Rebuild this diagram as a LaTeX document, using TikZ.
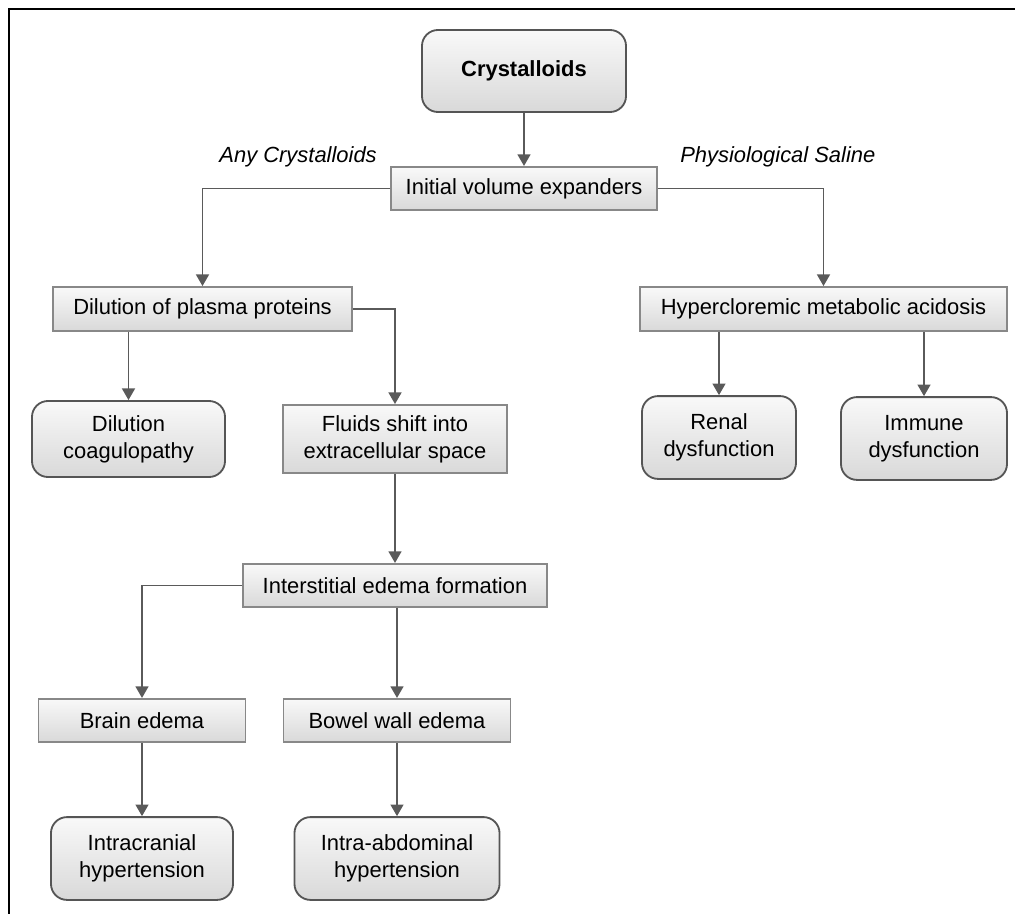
\documentclass[tikz,border=0pt]{standalone}
\usepackage{fontspec}
\setmainfont{Liberation Sans}
\usetikzlibrary{positioning,calc,arrows.meta,shapes}
\definecolor{linegray}{HTML}{5A5A5A}
\definecolor{boxedge}{HTML}{888888}
\definecolor{roundedge}{HTML}{555555}
\tikzset{
	%boxes of the chart
	effect/.style = {rectangle, draw=boxedge, line width=1.3pt,
	                 top color=gray!5, bottom color=gray!30,
	                 minimum height=1.08cm, align=center, inner sep=2pt},
	outcome/.style = {rectangle, rounded corners=0.4cm, draw=roundedge, line width=1.3pt,
	                 top color=gray!5, bottom color=gray!30,
	                 minimum height=2.07cm, align=center, inner sep=2pt},
	arr/.style = {-{Triangle[length=0.29cm, width=0.32cm]}, draw=linegray, line width=1.4pt},
	lbl/.style = {font=\fontsize{15.6}{19}\selectfont\itshape, inner sep=0pt}
}

\begin{document}
\begin{tikzpicture}[x=0.025cm, y=-0.025cm, font=\fontsize{15.6}{19}\selectfont]
	\useasboundingbox (0,0) rectangle (1015,914);
	% frame
	\draw[line width=2pt] (8,9) -- (1015,9);
	\draw[line width=1.5pt] (9,9) -- (9,914);

	\node (cry) [outcome, minimum width=5.1cm, minimum height=2.05cm, font=\fontsize{15.6}{19}\selectfont\bfseries] at (524,71) {Crystalloids};
	\node (ini) [effect, minimum width=6.65cm] at (524,188.5) {Initial volume expanders};
	\node (dpp) [effect, minimum width=7.475cm, minimum height=1.1cm] at (202.5,309) {Dilution of plasma proteins};
	\node (hma) [effect, minimum width=9.175cm, minimum height=1.1cm] at (823.5,309) {Hypercloremic metabolic acidosis};
	\node (dco) [outcome, minimum width=4.825cm, minimum height=1.9cm] at (128.5,439) {Dilution\\coagulopathy};
	\node (fsx) [effect, minimum width=5.6cm, minimum height=1.7cm] at (395,439) {Fluids shift into\\extracellular space};
	\node (ren) [outcome, minimum width=3.85cm] at (719,437.5) {Renal\\dysfunction};
	\node (imm) [outcome, minimum width=4.15cm] at (924,438.5) {Immune\\dysfunction};
	\node (ief) [effect, minimum width=7.6cm] at (395,585.5) {Interstitial edema formation};
	\node (bra) [effect, minimum width=5.175cm] at (142,720.5) {Brain edema};
	\node (bwe) [effect, minimum width=5.675cm] at (397,720.5) {Bowel wall edema};
	\node (icr) [outcome, minimum width=4.55cm] at (142,858.5) {Intracranial\\hypertension};
	\node (iah) [outcome, minimum width=5.125cm] at (397,858.5) {Intra-abdominal\\hypertension};

	\node (anyc) [lbl, anchor=east] at (377,157) {Any Crystalloids};
	\node (phys) [lbl, anchor=west] at (680,157) {Physiological Saline};

	\draw[arr] (cry) -- (ini);
	\draw[arr] (ini.west) -| (dpp.north);
	\draw[arr] (ini.east) -| (hma.north);
	\draw[arr] (dco.north |- dpp.south) -- (dco.north);
	\draw[arr] (dpp.east) -| (fsx.north);
	\draw[arr] (ren.north |- hma.south) -- (ren.north);
	\draw[arr] (imm.north |- hma.south) -- (imm.north);
	\draw[arr] (fsx) -- (ief);
	\draw[arr] (ief.west) -| (bra.north);
	\draw[arr] (bwe.north |- ief.south) -- (bwe.north);
	\draw[arr] (bra) -- (icr);
	\draw[arr] (bwe) -- (iah);
\end{tikzpicture}
\end{document}
